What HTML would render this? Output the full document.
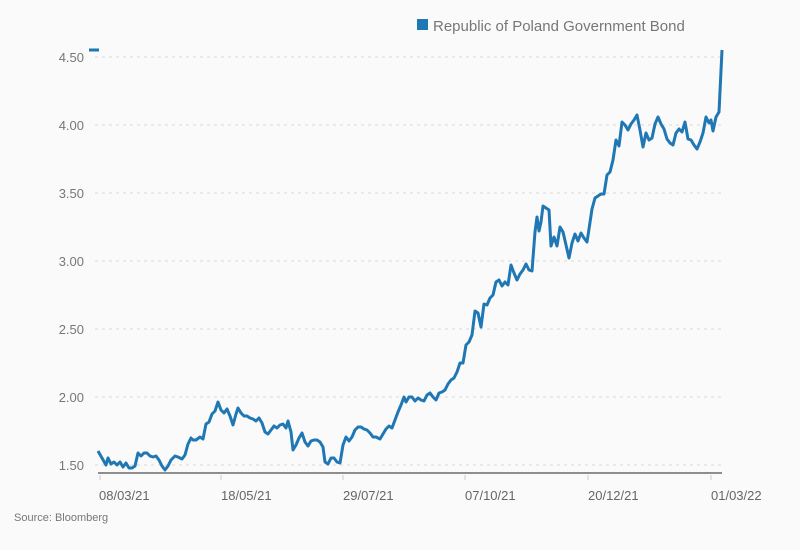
<!DOCTYPE html>
<html><head><meta charset="utf-8"><style>
html,body{margin:0;padding:0;background:#fafafa;}
svg{display:block;font-family:"Liberation Sans",sans-serif;}
</style></head><body>
<svg width="800" height="550" viewBox="0 0 800 550">
<rect width="800" height="550" fill="#fafafa"/>
<g stroke="#d8d8d8" stroke-dasharray="3,4" stroke-width="1">
<line x1="95" x2="722" y1="57" y2="57"/>
<line x1="95" x2="722" y1="125" y2="125"/>
<line x1="95" x2="722" y1="193" y2="193"/>
<line x1="95" x2="722" y1="261" y2="261"/>
<line x1="95" x2="722" y1="329" y2="329"/>
<line x1="95" x2="722" y1="397" y2="397"/>
<line x1="95" x2="722" y1="465" y2="465"/>
</g>
<g fill="#777" font-size="13" text-anchor="end">
<text x="84" y="62">4.50</text>
<text x="84" y="130">4.00</text>
<text x="84" y="198">3.50</text>
<text x="84" y="266">3.00</text>
<text x="84" y="334">2.50</text>
<text x="84" y="402">2.00</text>
<text x="84" y="470">1.50</text>
</g>
<line x1="98" x2="722" y1="473" y2="473" stroke="#222" stroke-width="1"/>
<g stroke="#ccc"><line x1="100" x2="100" y1="475" y2="480"/><line x1="221" x2="221" y1="475" y2="480"/><line x1="343" x2="343" y1="475" y2="480"/><line x1="465" x2="465" y1="475" y2="480"/><line x1="588" x2="588" y1="475" y2="480"/><line x1="711" x2="711" y1="475" y2="480"/></g>
<g fill="#666" font-size="13">
<text x="99" y="500">08/03/21</text>
<text x="221" y="500">18/05/21</text>
<text x="343" y="500">29/07/21</text>
<text x="465" y="500">07/10/21</text>
<text x="588" y="500">20/12/21</text>
<text x="711" y="500">01/03/22</text>
</g>
<text x="14" y="521" fill="#777" font-size="11">Source: Bloomberg</text>
<rect x="417" y="19" width="11" height="11" fill="#1f77b4"/>
<text x="433" y="31" fill="#777" font-size="15">Republic of Poland Government Bond</text>
<line x1="89" x2="99" y1="50" y2="50" stroke="#1f77b4" stroke-width="3"/>
<polyline fill="none" stroke="#1f77b4" stroke-width="3" stroke-linejoin="round" points="98,451 102,458 106,465 108,458 111,464 114,462 117,465 120,462 123,467 126,463 129,468 132,468 135,466 138,453 141,456 144,453 147,453 150,456 153,457 156,456 159,460 162,466 165,470 168,466 171,460 175,456 178,457 182,459 185,455 188,444 191,438 193,440 196,440 200,437 203,439 206,424 209,422 212,414 215,411 218,402 221,410 224,413 227,409 230,416 233,425 236,414 238,408 241,413 244,416 247,416 250,418 253,419 256,421 259,418 262,423 265,432 268,434 271,430 274,426 277,428 280,425 283,424 286,428 288,421 291,432 293,450 296,445 299,438 302,433 305,442 308,446 311,441 314,440 317,440 320,442 323,447 325,462 328,464 331,458 334,458 337,462 340,463 343,445 346,437 349,441 352,437 355,430 358,427 361,427 364,429 367,430 370,433 373,437 376,437 380,439 383,434 386,429 389,426 392,428 395,420 398,412 401,405 404,397 406,402 409,397 412,397 415,401 418,398 421,400 424,401 427,395 430,393 433,397 436,400 439,393 442,392 445,390 448,384 451,380 454,378 457,372 460,363 463,363 466,345 469,342 472,335 475,311 478,313 481,327 484,304 487,305 490,298 493,295 496,282 499,280 502,286 505,282 508,285 511,265 514,273 517,280 520,274 523,270 526,264 529,270 532,271 535,232 537,217 539,231 541,222 543,206 546,208 549,210 551,246 554,237 557,246 560,227 563,232 566,245 569,258 572,243 575,234 578,241 581,233 584,238 587,242 589,229 592,209 595,198 598,196 601,194 604,194 607,175 610,172 613,160 616,140 619,146 622,122 625,125 628,130 631,124 634,120 637,115 640,130 643,147 646,133 649,140 652,138 655,124 658,117 661,124 664,129 667,139 670,143 673,145 676,133 679,129 682,132 685,122 688,139 691,140 694,145 697,149 700,142 703,133 706,117 709,123 711,120 713,131 716,117 719,112 722,50"/>
</svg>
</body></html>
